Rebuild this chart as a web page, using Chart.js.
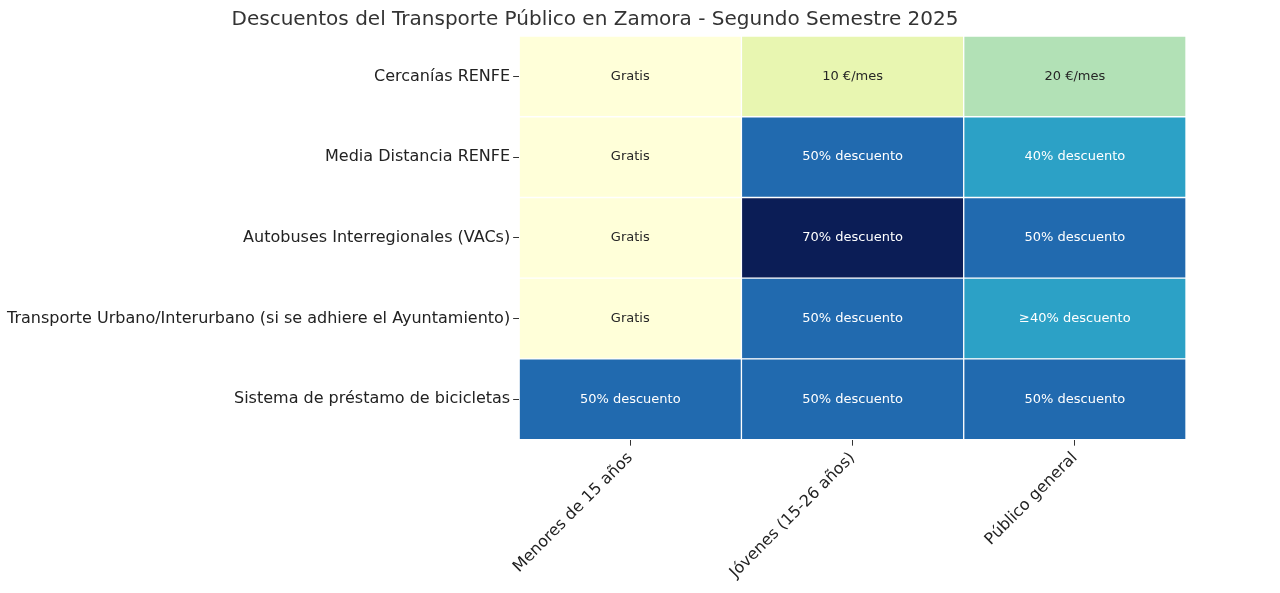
<!DOCTYPE html>
<html>
<head>
<meta charset="utf-8">
<script src="https://cdn.jsdelivr.net/npm/chart.js@4"></script>
<style>
html, body { margin: 0; padding: 0; background: #fff; }
#wrap { width: 1280px; height: 593px; }
</style>
</head>
<body>
<div id="wrap"><canvas id="heat"></canvas></div>
<script>
const rows = ['Cercanías RENFE', 'Media Distancia RENFE', 'Autobuses Interregionales (VACs)',
    'Transporte Urbano/Interurbano (si se adhiere el Ayuntamiento)', 'Sistema de préstamo de bicicletas'];
const columns = ['Menores de 15 años', 'Jóvenes (15-26 años)', 'Público general'];

// cell text per column
const menoresText = ['Gratis', 'Gratis', 'Gratis', 'Gratis', '50% descuento'];
const jovenesText = ['10 €/mes', '50% descuento', '70% descuento', '50% descuento', '50% descuento'];
const generalText = ['20 €/mes', '40% descuento', '50% descuento', '≥40% descuento', '50% descuento'];

// colour level per cell (0 = lightest, 5 = darkest)
const menoresLevel = [0, 0, 0, 0, 4];
const jovenesLevel = [1, 4, 5, 4, 4];
const generalLevel = [2, 3, 4, 3, 4];

const palette = ['#ffffd9', '#e8f6b1', '#b2e1b6', '#2ca1c6', '#216aaf', '#0b1d56'];
const textDark = ['#262626', '#262626', '#262626', '#ffffff', '#ffffff', '#ffffff'];

const colText = [menoresText, jovenesText, generalText];
const colLevel = [menoresLevel, jovenesLevel, generalLevel];

const datasets = columns.map((c, i) => ({
    label: c,
    data: rows.map(() => [i, i + 1]),
    backgroundColor: colLevel[i].map(l => palette[l]),
    borderColor: '#ffffff',
    borderWidth: 1,
    borderSkipped: false,
    barPercentage: 1,
    categoryPercentage: 1,
    cellText: colText[i],
    cellColor: colLevel[i].map(l => textDark[l])
}));

const cellLabels = {
    id: 'cellLabels',
    afterDatasetsDraw(chart) {
        const ctx = chart.ctx;
        ctx.save();
        ctx.font = "13px 'DejaVu Sans', sans-serif";
        ctx.textAlign = 'center';
        ctx.textBaseline = 'middle';
        chart.data.datasets.forEach((ds, i) => {
            chart.getDatasetMeta(i).data.forEach((bar, j) => {
                const p = bar.getProps(['x', 'y', 'base'], true);
                ctx.fillStyle = ds.cellColor[j];
                ctx.fillText(ds.cellText[j], (p.x + p.base) / 2, p.y);
            });
        });
        ctx.restore();
    }
};

new Chart(document.getElementById('heat'), {
    type: 'bar',
    data: { labels: rows, datasets: datasets },
    plugins: [cellLabels],
    options: {
        indexAxis: 'y',
        responsive: true,
        maintainAspectRatio: false,
        animation: false,
        layout: { padding: { left: 4, right: 94, top: 0, bottom: 8 } },
        plugins: {
            legend: { display: false },
            tooltip: { enabled: false },
            title: {
                display: true,
                text: 'Descuentos del Transporte Público en Zamora - Segundo Semestre 2025',
                color: '#333',
                font: { family: "'DejaVu Sans', sans-serif", size: 20, weight: 'normal' },
                padding: { top: 8, bottom: 4 }
            }
        },
        scales: {
            x: {
                type: 'linear',
                min: 0, max: 3,
                stacked: false,
                afterBuildTicks: axis => { axis.ticks = [0.5, 1.5, 2.5].map(v => ({ value: v })); },
                ticks: {
                    callback: v => columns[Math.floor(v)],
                    maxRotation: 45, minRotation: 45,
                    color: '#222',
                    font: { family: "'DejaVu Sans', sans-serif", size: 16 }
                },
                grid: { drawOnChartArea: false, tickLength: 6, color: '#333' },
                border: { display: false }
            },
            y: {
                stacked: true,
                ticks: { color: '#222', font: { family: "'DejaVu Sans', sans-serif", size: 16 } },
                grid: { drawOnChartArea: false, offset: false, tickLength: 6, color: '#333' },
                border: { display: false }
            }
        }
    }
});
</script>
</body>
</html>
